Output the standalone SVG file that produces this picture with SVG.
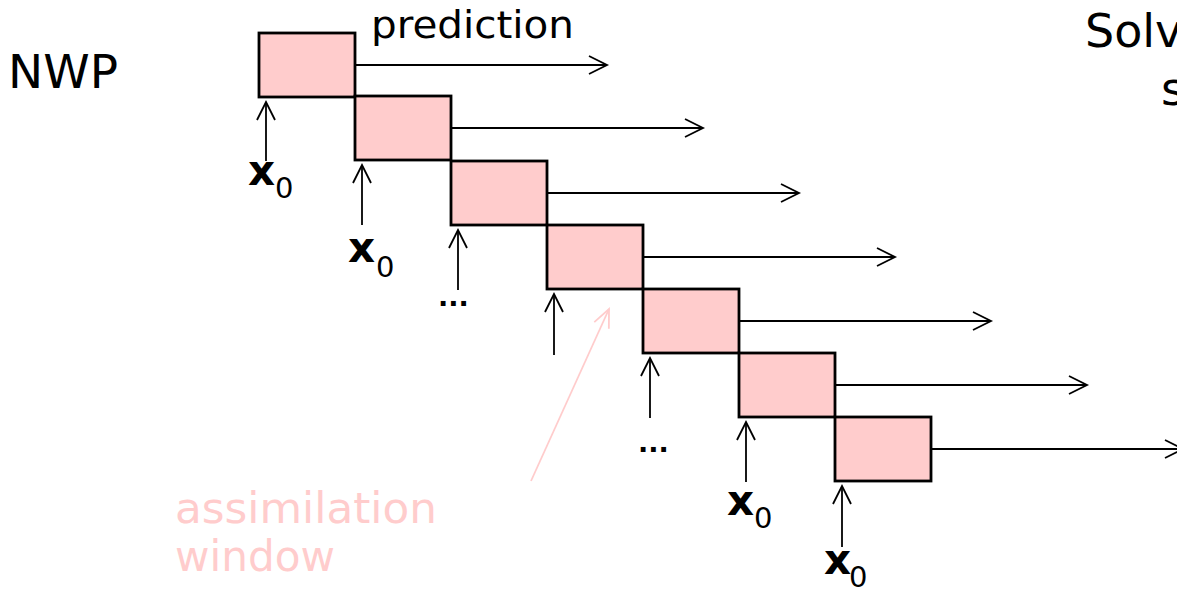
<svg xmlns="http://www.w3.org/2000/svg" width="1177" height="592" viewBox="0 0 1177 592">
<style>
.box{fill:#ffcccc;stroke:#000;stroke-width:2.8}
.ar{stroke:#000;stroke-width:1.8;fill:none;marker-end:url(#head)}
.pk{stroke:#ffcccc;stroke-width:1.8;fill:none;marker-end:url(#headp)}
.t{font-family:"DejaVu Sans",sans-serif;fill:#000}
.xl{font-family:"DejaVu Sans",sans-serif;font-weight:bold;font-size:42px;fill:#000}
.sub{font-family:"DejaVu Sans",sans-serif;font-size:29px;fill:#000}
.dots{font-family:"DejaVu Sans",sans-serif;font-weight:bold;font-size:27px;fill:#000}
.pinkt{font-family:"DejaVu Sans",sans-serif;font-size:43px;fill:#ffcccc}
</style>
<defs>
<marker id="head" markerUnits="userSpaceOnUse" viewBox="-20 -12 24 24" markerWidth="24" markerHeight="24" refX="0" refY="0" orient="auto" overflow="visible">
<path d="M-18,-9 L0,0 L-18,9" fill="none" stroke="#000" stroke-width="1.8"/>
</marker>
<marker id="headp" markerUnits="userSpaceOnUse" viewBox="-20 -12 24 24" markerWidth="24" markerHeight="24" refX="0" refY="0" orient="auto" overflow="visible">
<path d="M-18,-8 L0,0 L-18,8" fill="none" stroke="#ffcccc" stroke-width="1.8"/>
</marker>
</defs>
<rect width="1177" height="592" fill="#fff"/>
<g id="connectors">
<line class="ar" x1="355" y1="65" x2="607" y2="65"/>
<line class="ar" x1="451" y1="128" x2="703" y2="128"/>
<line class="ar" x1="547" y1="193" x2="799" y2="193"/>
<line class="ar" x1="643" y1="257" x2="895" y2="257"/>
<line class="ar" x1="739" y1="321" x2="991" y2="321"/>
<line class="ar" x1="835" y1="385" x2="1087" y2="385"/>
<line class="ar" x1="931" y1="449" x2="1183" y2="449"/>
<line class="ar" x1="266" y1="161" x2="266" y2="102"/>
<line class="ar" x1="362" y1="225" x2="362" y2="165"/>
<line class="ar" x1="458" y1="290" x2="458" y2="230"/>
<line class="ar" x1="554" y1="355" x2="554" y2="294"/>
<line class="ar" x1="650" y1="418" x2="650" y2="358"/>
<line class="ar" x1="746" y1="482" x2="746" y2="422"/>
<line class="ar" x1="842" y1="547" x2="842" y2="486"/>
<line class="pk" x1="531" y1="481" x2="609" y2="309"/>
</g>
<g id="box1"><rect class="box" x="259" y="33" width="96" height="64"/></g>
<g id="box2"><rect class="box" x="355" y="96" width="96" height="64"/></g>
<g id="box3"><rect class="box" x="451" y="161" width="96" height="64"/></g>
<g id="box4"><rect class="box" x="547" y="225" width="96" height="64"/></g>
<g id="box5"><rect class="box" x="643" y="289" width="96" height="64"/></g>
<g id="box6"><rect class="box" x="739" y="353" width="96" height="64"/></g>
<g id="box7"><rect class="box" x="835" y="417" width="96" height="64"/></g>
<g id="labels">
<text class="t" x="8" y="88" font-size="47">NWP</text>
<text class="t" x="371" y="38" font-size="37" textLength="203" lengthAdjust="spacingAndGlyphs">prediction</text>
<text class="t" x="1085" y="47" font-size="46">Solv</text>
<text class="t" x="1161" y="105" font-size="46">s</text>
<text class="xl" x="248" y="185">x</text><text class="sub" x="275" y="198">0</text>
<text class="xl" x="348" y="262">x</text><text class="sub" x="376" y="277">0</text>
<text class="xl" x="727" y="515">x</text><text class="sub" x="754" y="528">0</text>
<text class="xl" x="824" y="574">x</text><text class="sub" x="849" y="587">0</text>
<text class="dots" x="438" y="306">...</text>
<text class="dots" x="638" y="452">...</text>
<text class="pinkt" x="175" y="523" textLength="262" lengthAdjust="spacingAndGlyphs">assimilation</text>
<text class="pinkt" x="175" y="571" textLength="160" lengthAdjust="spacingAndGlyphs">window</text>
</g>
</svg>
